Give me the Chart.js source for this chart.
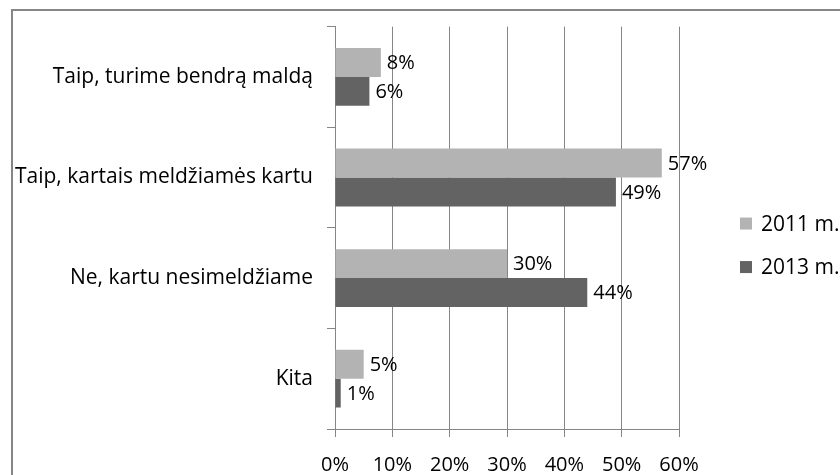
<!DOCTYPE html>
<html><head><meta charset="utf-8">
<script src="https://cdn.jsdelivr.net/npm/chart.js@4"></script>
<style>
html,body{margin:0;padding:0;background:#fff;overflow:hidden}
#wrap{position:relative;width:840px;height:475px;overflow:hidden}
#frame{position:absolute;left:11px;top:9px;width:860px;height:500px;border:2px solid #868686;box-sizing:border-box}
canvas{position:absolute;left:0;top:0}
</style></head><body>
<div id="wrap"><div id="frame"></div><canvas id="c" width="840" height="475"></canvas></div>
<script>
const categories = ['Taip, turime bendrą maldą', 'Taip, kartais meldžiamės kartu', 'Ne, kartu nesimeldžiame', 'Kita'];
const seriesNames = ['2011 m.', '2013 m.'];
const series2011 = [8, 57, 30, 5];
const series2013 = [6, 49, 44, 1];
const xTickValues = [0, 10, 20, 30, 40, 50, 60];
const colors = ['#b3b3b3', '#636363'];

const FONT = '"Open Sans", "Noto Sans", sans-serif';
const FS_CAT = 21;
const FS_NUM = 20;
const gridColor = '#868686';

const dataLabels = {
  id: 'dataLabels',
  afterDatasetsDraw(chart) {
    const ctx = chart.ctx;
    ctx.save();
    ctx.font = FS_NUM + 'px ' + FONT;
    ctx.fillStyle = '#000';
    ctx.textAlign = 'left';
    ctx.textBaseline = 'middle';
    chart.data.datasets.forEach((ds, di) => {
      const meta = chart.getDatasetMeta(di);
      meta.data.forEach((el, i) => {
        ctx.fillText(ds.data[i] + '%', el.x + 6, el.y + 1);
      });
    });
    ctx.restore();
  }
};

const sideLegend = {
  id: 'sideLegend',
  afterDraw(chart) {
    const ctx = chart.ctx;
    const a = chart.chartArea;
    const midY = (a.top + a.bottom) / 2 + 17.5;
    const x0 = a.right + 61;
    ctx.save();
    ctx.font = FS_CAT + 'px ' + FONT;
    ctx.textBaseline = 'middle';
    ctx.textAlign = 'left';
    chart.data.datasets.forEach((ds, i) => {
      const y = midY + (i - 0.5) * 43.5;
      ctx.fillStyle = ds.backgroundColor;
      ctx.fillRect(x0, y - 6, 12, 12);
      ctx.fillStyle = '#000';
      ctx.fillText(ds.label, x0 + 21, y + 1);
    });
    ctx.restore();
  }
};

new Chart(document.getElementById('c'), {
  type: 'bar',
  data: {
    labels: categories,
    datasets: [
      { label: seriesNames[0], data: series2011, backgroundColor: colors[0] },
      { label: seriesNames[1], data: series2013, backgroundColor: colors[1] }
    ]
  },
  options: {
    indexAxis: 'y',
    responsive: false,
    animation: false,
    categoryPercentage: 0.575,
    barPercentage: 1,
    layout: { padding: { left: 0, top: 26, right: 161, bottom: 0 } },
    plugins: { legend: { display: false }, tooltip: { enabled: false } },
    scales: {
      x: {
        min: 0, max: 60,
        afterBuildTicks(s) { s.ticks = xTickValues.map(v => ({ value: v })); },
        afterFit(s) { s.height = 46; },
        ticks: { callback: v => v + '%', color: '#000', font: { family: FONT, size: FS_NUM }, padding: 16, maxRotation: 0 },
        grid: { color: gridColor, lineWidth: 1, tickLength: 8 },
        border: { color: gridColor, width: 1 }
      },
      y: {
        afterFit(s) { s.width = 335; },
        ticks: { color: '#000', font: { family: FONT, size: FS_CAT }, padding: 14 },
        grid: { drawOnChartArea: false, color: gridColor, tickLength: 8, offset: true },
        border: { color: gridColor, width: 1 }
      }
    }
  },
  plugins: [dataLabels, sideLegend]
});
</script>
</body></html>
